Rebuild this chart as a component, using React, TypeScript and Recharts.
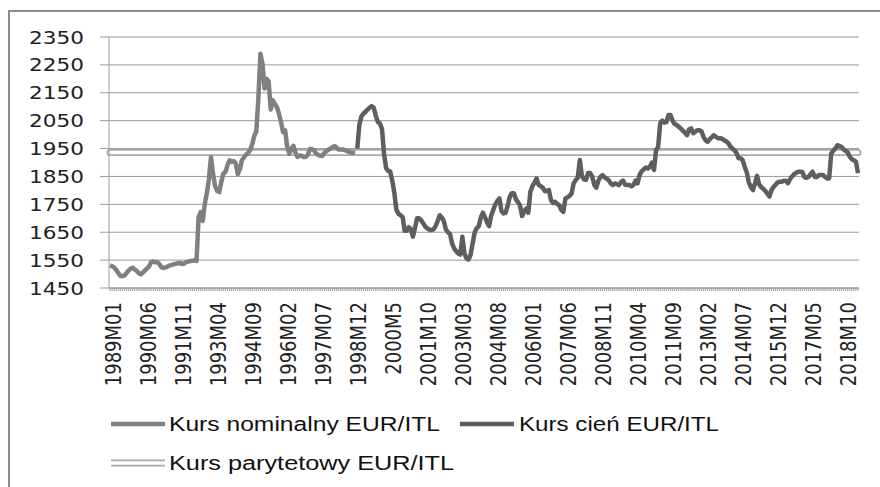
import React from 'react';
import { LineChart, Line, XAxis, YAxis, CartesianGrid } from 'recharts';

// Kurs nominalny EUR/ITL, monthly 1989M01 - 1998M12
const nominalKurs = [
  1531, 1528, 1524, 1515, 1504, 1494, 1492, 1495, 1503, 1513, 1519, 1523, // 1989
  1516, 1511, 1503, 1499, 1506, 1513, 1520, 1528, 1543, 1545, 1542, 1543, // 1990
  1535, 1525, 1522, 1524, 1527, 1531, 1533, 1535, 1537, 1539, 1540, 1536, // 1991
  1538, 1543, 1544, 1547, 1548, 1549, 1547, 1704, 1722, 1690, 1752, 1790, // 1992
  1840, 1920, 1860, 1815, 1798, 1794, 1830, 1860, 1866, 1890, 1908, 1902, // 1993
  1905, 1898, 1858, 1875, 1908, 1918, 1928, 1934, 1945, 1965, 1995, 2012, // 1994
  2130, 2290, 2254, 2165, 2200, 2190, 2090, 2123, 2110, 2099, 2075, 2045, // 1995
  2009, 2015, 1956, 1932, 1950, 1960, 1935, 1920, 1925, 1924, 1920, 1920, // 1996
  1928, 1948, 1948, 1944, 1932, 1927, 1925, 1923, 1934, 1940, 1946, 1950, // 1997
  1955, 1959, 1953, 1947, 1947, 1947, 1944, 1941, 1938, 1935, 1935, 1935, // 1998
];

// Kurs cień EUR/ITL, monthly 1999M01 - 2019M04
const shadowKurs = [
  1950, 2035, 2065, 2075, 2082, 2090, 2097, 2102, 2096, 2068, 2045, 2040, // 1999
  2020, 1930, 1880, 1870, 1867, 1835, 1790, 1730, 1716, 1711, 1705, 1655, // 2000
  1655, 1668, 1662, 1634, 1665, 1700, 1700, 1693, 1682, 1670, 1664, 1659, // 2001
  1658, 1660, 1672, 1690, 1711, 1703, 1690, 1660, 1650, 1644, 1610, 1592, // 2002
  1582, 1574, 1570, 1634, 1574, 1556, 1552, 1570, 1610, 1650, 1665, 1672, // 2003
  1705, 1720, 1703, 1685, 1672, 1710, 1730, 1750, 1762, 1771, 1725, 1717, // 2004
  1720, 1745, 1777, 1790, 1790, 1768, 1758, 1745, 1708, 1725, 1735, 1720, // 2005
  1795, 1815, 1828, 1843, 1820, 1815, 1810, 1797, 1798, 1801, 1765, 1755, // 2006
  1759, 1752, 1747, 1730, 1723, 1771, 1775, 1780, 1789, 1825, 1837, 1845, // 2007
  1909, 1852, 1840, 1838, 1862, 1862, 1850, 1820, 1810, 1835, 1848, 1855, // 2008
  1847, 1842, 1837, 1825, 1819, 1825, 1822, 1819, 1830, 1835, 1820, 1819, // 2009
  1819, 1815, 1819, 1835, 1825, 1855, 1868, 1875, 1882, 1878, 1885, 1900, // 2010
  1873, 1944, 1956, 2040, 2050, 2043, 2045, 2070, 2070, 2050, 2038, 2035, // 2011
  2028, 2022, 2014, 2007, 1998, 2018, 2022, 2005, 2010, 2016, 2016, 2012, // 2012
  1992, 1980, 1974, 1983, 1990, 1998, 1992, 1987, 1987, 1985, 1980, 1976, // 2013
  1970, 1958, 1950, 1944, 1935, 1915, 1915, 1909, 1885, 1865, 1830, 1812, // 2014
  1801, 1825, 1852, 1822, 1812, 1806, 1798, 1788, 1778, 1801, 1812, 1820, // 2015
  1829, 1831, 1831, 1835, 1834, 1826, 1840, 1850, 1858, 1863, 1867, 1867, // 2016
  1866, 1847, 1845, 1849, 1858, 1867, 1848, 1848, 1855, 1855, 1855, 1849, // 2017
  1843, 1843, 1932, 1942, 1950, 1962, 1959, 1956, 1947, 1942, 1936, 1921, // 2018
  1912, 1908, 1903, 1862, // 2019
];

const parityKurs = 1936.27;

const firstYear = 1989;

const tickLabels = [
  '1989M01', '1990M06', '1991M11', '1993M04', '1994M09', '1996M02', '1997M07', '1998M12',
  '2000M5', '2001M10', '2003M03', '2004M08', '2006M01', '2007M06', '2008M11', '2010M04',
  '2011M09', '2013M02', '2014M07', '2015M12', '2017M05', '2018M10',
];
const labelStep = 17;

const yTicks = [1450, 1550, 1650, 1750, 1850, 1950, 2050, 2150, 2250, 2350];

const legendItems = [
  { name: 'Kurs nominalny EUR/ITL', color: '#808080' },
  { name: 'Kurs cień EUR/ITL', color: '#5e5e5e' },
  { name: 'Kurs parytetowy EUR/ITL', color: '#a9a9a9' },
];

const total = nominalKurs.length + shadowKurs.length;
const months = Array.from({ length: total }, (_, i) => {
  const y = firstYear + Math.floor(i / 12);
  const m = (i % 12) + 1;
  return `${y}M${m < 10 ? '0' + m : m}`;
});

const data = months.map((month, i) => ({
  month,
  nominal: i < nominalKurs.length ? nominalKurs[i] : null,
  shadow: i >= nominalKurs.length ? shadowKurs[i - nominalKurs.length] : null,
  parity: parityKurs,
}));

const axisColor = '#9a9a9a';
const textColor = '#222';
const font = "'DejaVu Sans', sans-serif";

function XTick(props: any) {
  const { x, y, index } = props;
  if (index % labelStep !== 0) return null;
  const label = tickLabels[index / labelStep];
  if (!label) return null;
  return (
    <text
      transform={`translate(${x + 3},${y}) scale(1.2,1) rotate(-90)`}
      textAnchor="end"
      dy={6.5}
      fontFamily={font}
      fontSize={18}
      fill={textColor}
    >
      {label}
    </text>
  );
}

function YTick(props: any) {
  const { x, y, payload } = props;
  return (
    <text
      transform={`translate(${x},${y}) scale(1.2,1)`}
      textAnchor="end"
      dy={6.5}
      fontFamily={font}
      fontSize={18}
      fill={textColor}
    >
      {payload.value}
    </text>
  );
}

function ChartLegend() {
  const [nom, cien, par] = legendItems;
  const text = { fontFamily: "'Liberation Sans', sans-serif", fontSize: 19.5, fill: '#111' };
  return (
    <svg width={880} height={487} style={{ position: 'absolute', left: 0, top: 0, pointerEvents: 'none' }}>
      <line x1={111} x2={165} y1={424} y2={424} stroke={nom.color} strokeWidth={4.5} />
      <text x={169} y={431} textLength={271} lengthAdjust="spacingAndGlyphs" {...text}>
        {nom.name}
      </text>
      <line x1={460} x2={514} y1={424} y2={424} stroke={cien.color} strokeWidth={4.5} />
      <text x={519} y={431} textLength={200} lengthAdjust="spacingAndGlyphs" {...text}>
        {cien.name}
      </text>
      <line x1={111} x2={165} y1={463} y2={463} stroke={par.color} strokeWidth={7} />
      <line x1={111} x2={165} y1={463} y2={463} stroke="#fff" strokeWidth={3.5} />
      <text x={169} y={470} textLength={285} lengthAdjust="spacingAndGlyphs" {...text}>
        {par.name}
      </text>
    </svg>
  );
}

export default function App() {
  return (
    <div style={{ position: 'absolute', left: 0, top: 0, width: 880, height: 487, background: '#fff', overflow: 'hidden' }}>
      <div
        style={{
          position: 'absolute',
          left: 8,
          top: 10,
          width: 900,
          height: 500,
          borderLeft: '2px solid #8c8c8c',
          borderTop: '2px solid #8c8c8c',
        }}
      />
      <LineChart width={880} height={487} data={data} margin={{ top: 37, right: 21, left: 0, bottom: 99 }}>
        <CartesianGrid vertical={false} stroke={axisColor} />
        <XAxis
          dataKey="month"
          interval={0}
          height={100}
          padding={{ left: 1, right: 1 }}
          axisLine={{ stroke: axisColor }}
          tickLine={{ stroke: axisColor }}
          tickSize={3}
          tickMargin={11}
          tick={<XTick />}
        />
        <YAxis
          width={109}
          domain={[1450, 2350]}
          ticks={yTicks}
          interval={0}
          allowDataOverflow
          axisLine={{ stroke: axisColor }}
          tickLine={{ stroke: axisColor }}
          tickSize={9}
          tickMargin={16}
          tick={<YTick />}
        />
        <Line
          dataKey="parity"
          stroke={legendItems[2].color}
          strokeWidth={7}
          strokeLinecap="round"
          dot={false}
          isAnimationActive={false}
        />
        <Line dataKey="parity" stroke="#fff" strokeWidth={3.5} strokeLinecap="round" dot={false} isAnimationActive={false} />
        <Line
          dataKey="nominal"
          stroke={legendItems[0].color}
          strokeWidth={4.5}
          strokeLinejoin="round"
          dot={false}
          isAnimationActive={false}
        />
        <Line
          dataKey="shadow"
          stroke={legendItems[1].color}
          strokeWidth={4.5}
          strokeLinejoin="round"
          dot={false}
          isAnimationActive={false}
        />
      </LineChart>
      <ChartLegend />
    </div>
  );
}
